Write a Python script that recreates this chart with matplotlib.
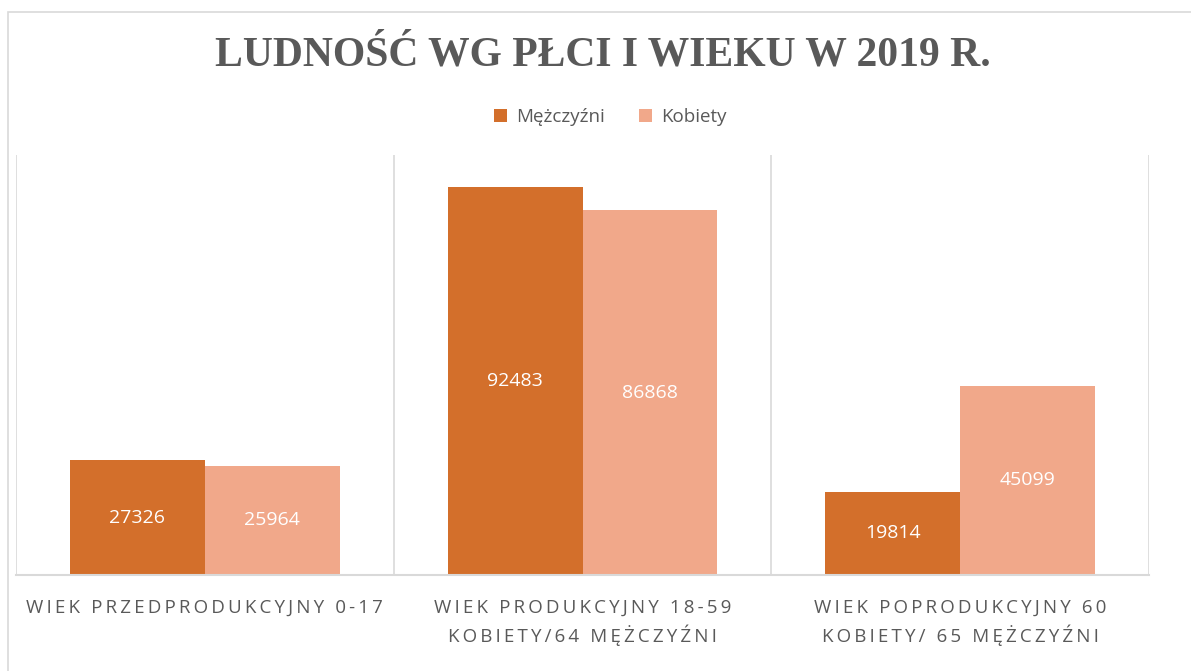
import numpy as np
import matplotlib.pyplot as plt
from matplotlib.patches import Rectangle

categories = ['WIEK PRZEDPRODUKCYJNY 0-17',
              'WIEK PRODUKCYJNY 18-59\nKOBIETY/64 MĘŻCZYŹNI',
              'WIEK POPRODUKCYJNY 60\nKOBIETY/ 65 MĘŻCZYŹNI']
men = [27326, 92483, 19814]
women = [25964, 86868, 45099]
series_names = ['Mężczyźni', 'Kobiety']

c_men = '#D36F2B'
c_women = '#F1A88A'
grid_c = '#D9D9D9'
text_c = '#595959'


def spaced(s, sep='\u2009'):
    # fake letter spacing, one line at a time
    return '\n'.join(sep.join(line) for line in s.split('\n'))


fig = plt.figure(figsize=(11.91, 6.71), dpi=100)
W, H = 1191, 671

# outer chart border
fig.patches.append(Rectangle((8 / W, -0.1), 1.2, 1 - 12 / H + 0.1, transform=fig.transFigure,
                             fill=False, edgecolor=grid_c, linewidth=1.2))

ax = fig.add_axes([16 / W, 1 - 575 / H, 1133 / W, 420 / H])

ind = np.arange(len(categories))
width = 0.357

b1 = ax.bar(ind - width / 2, men, width, color=c_men, label=series_names[0])
b2 = ax.bar(ind + width / 2, women, width, color=c_women, label=series_names[1])

for bars in (b1, b2):
    for r in bars:
        ax.text(r.get_x() + r.get_width() / 2, r.get_height() / 2, str(int(r.get_height())),
                ha='center', va='center', color='white', fontsize=14, family='Open Sans')

ax.set_xlim(-0.5, 2.5)
ax.set_ylim(0, 100000)
for x in [-0.5, 0.5, 1.5, 2.5]:
    ax.axvline(x, color=grid_c, linewidth=1.2, zorder=0)

for s in ['top', 'left', 'right']:
    ax.spines[s].set_visible(False)
ax.spines['bottom'].set_color(grid_c)
ax.spines['bottom'].set_linewidth(1.5)

ax.set_yticks([])
ax.set_xticks(ind)
ax.set_xticklabels([spaced(c) for c in categories], fontsize=13.5, color=text_c,
                   family=['Open Sans', 'DejaVu Sans'], linespacing=1.45)
ax.tick_params(axis='x', length=0, pad=17)

fig.text(603 / W, 1 - 56 / H, 'LUDNOŚĆ WG PŁCI I WIEKU W 2019 R.', ha='center', va='center',
         fontsize=30, fontweight='bold', family='Liberation Serif', color=text_c)

fig.legend(loc='center', bbox_to_anchor=(610 / W, 1 - 117 / H), ncol=2, frameon=False,
           handlelength=0.7, handleheight=0.7, handletextpad=0.5, columnspacing=1.8,
           prop={'family': 'Open Sans', 'size': 13.5}, labelcolor=text_c)

fig.savefig('out.png', dpi=100)
